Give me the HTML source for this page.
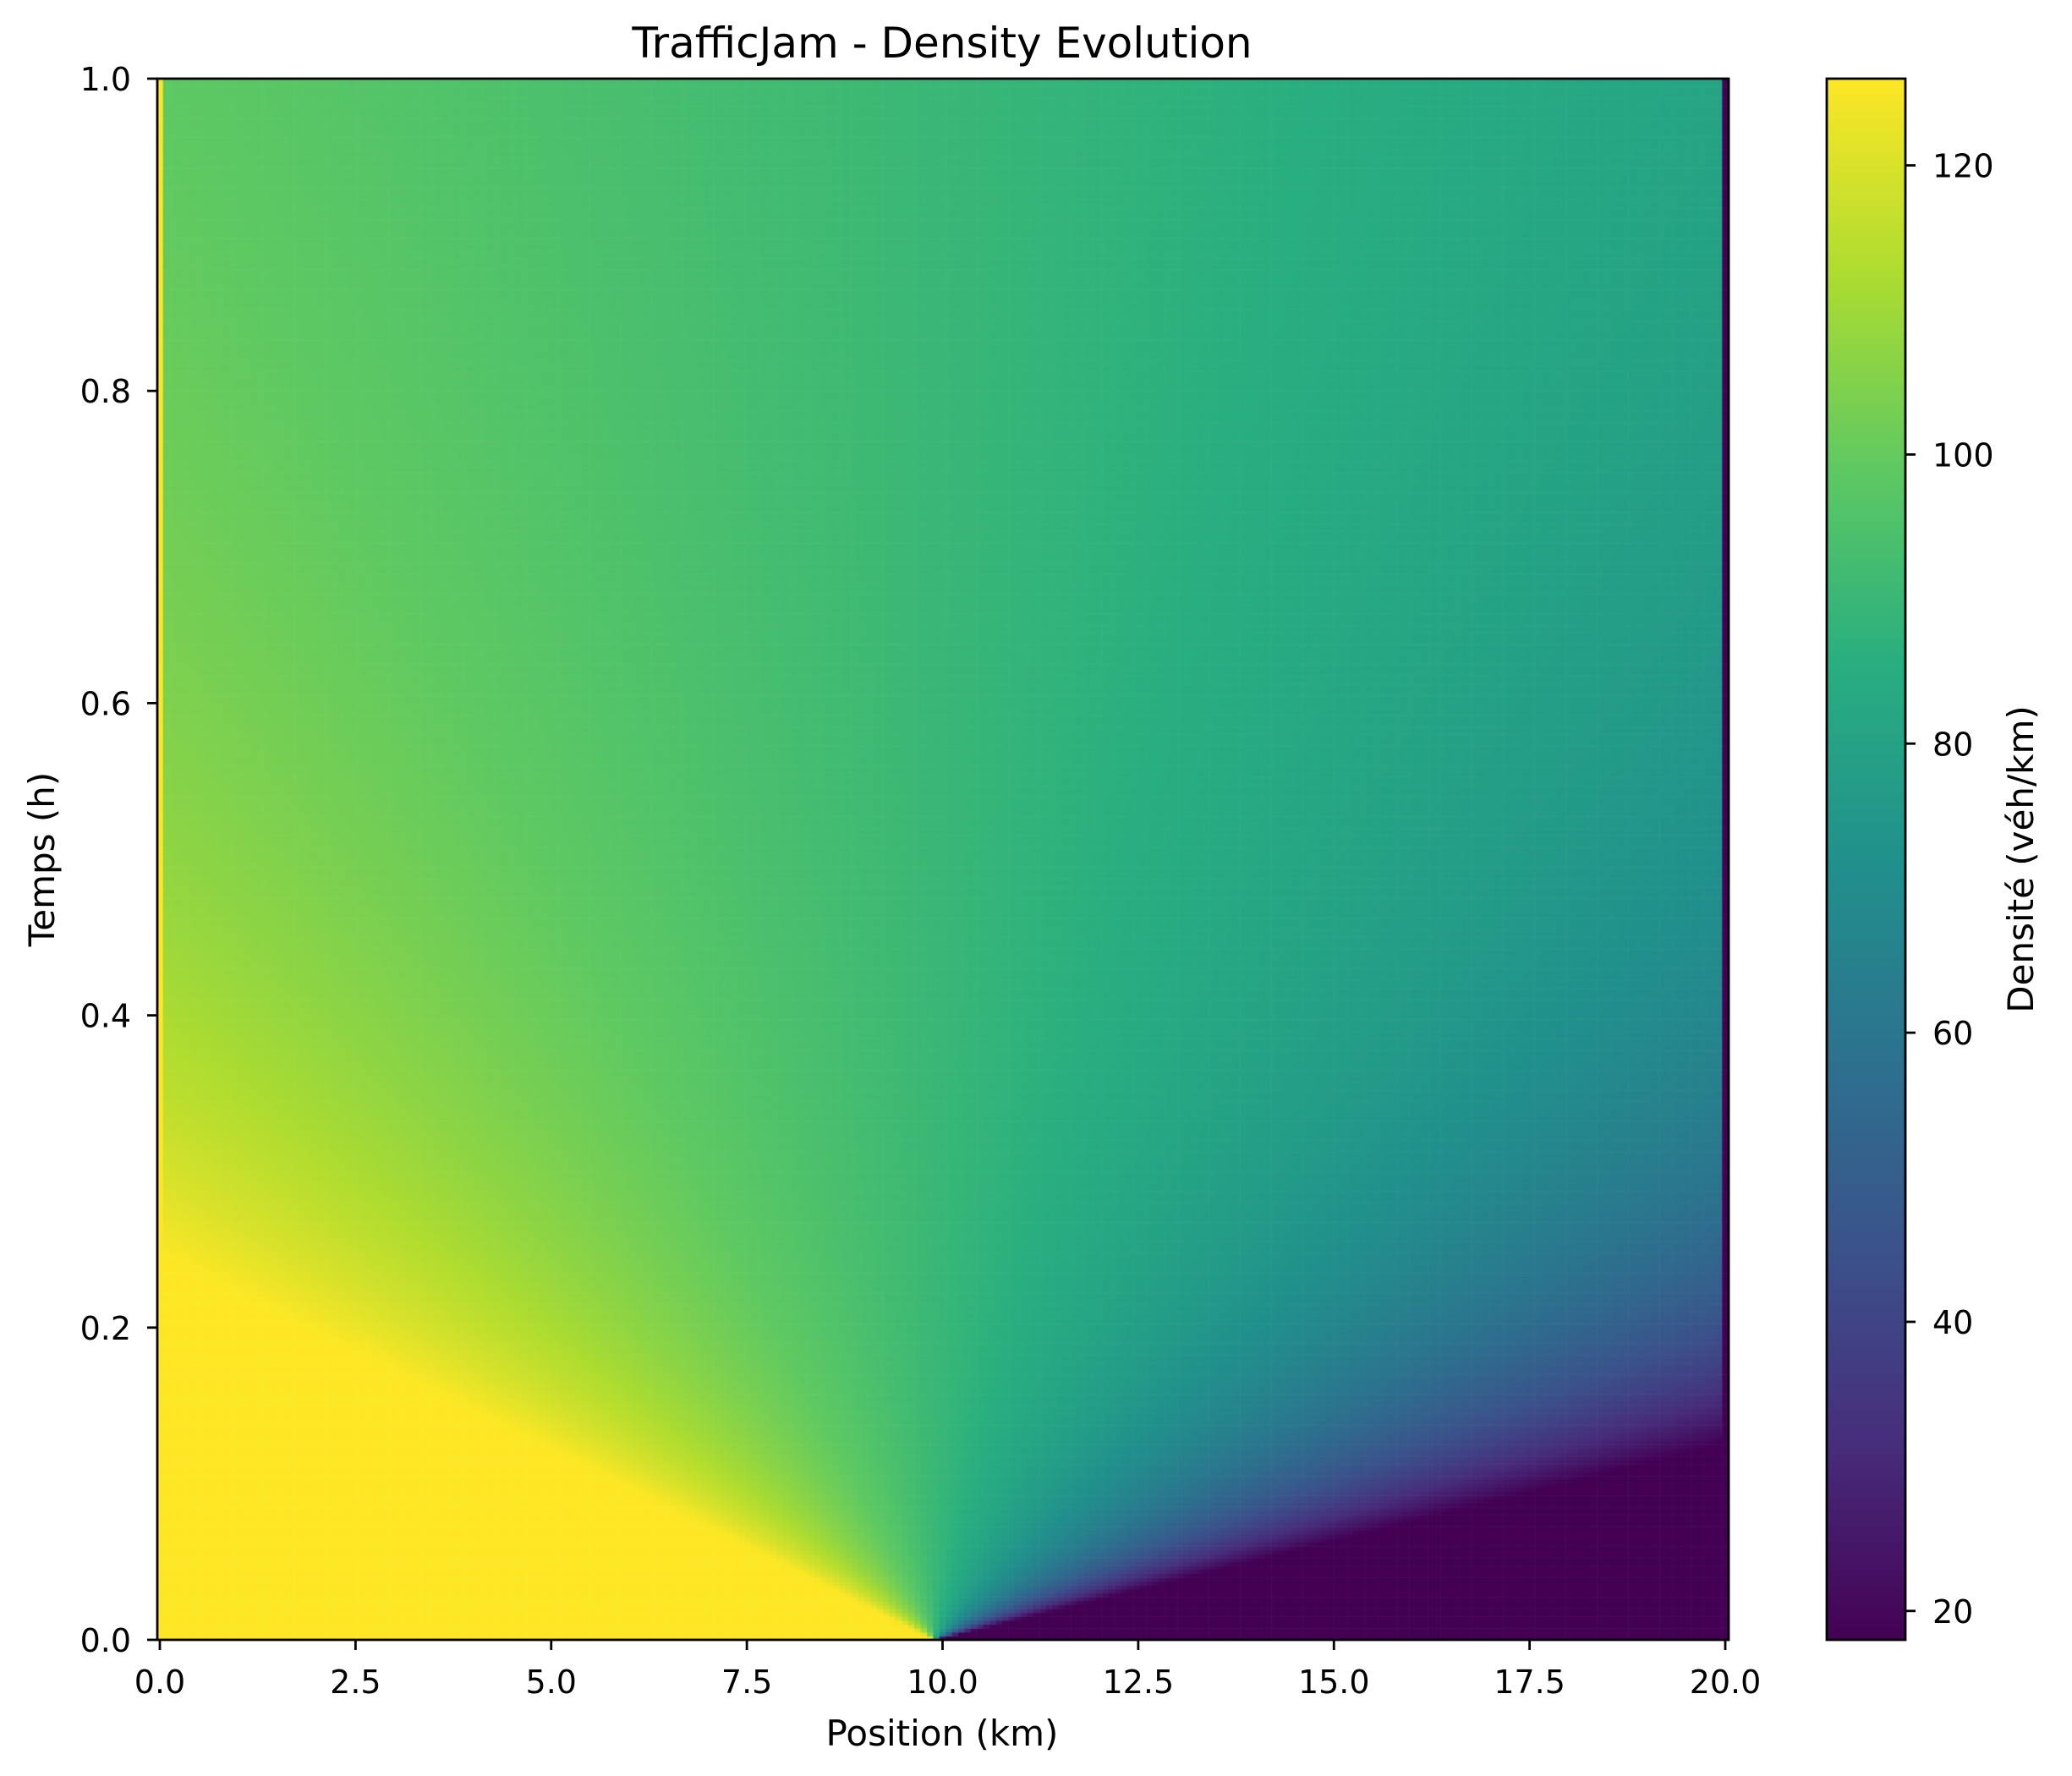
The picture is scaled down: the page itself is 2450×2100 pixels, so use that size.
<!DOCTYPE html>
<html><head><meta charset="utf-8"><style>
html,body{margin:0;padding:0;background:#fff;}
#wrap{position:relative;width:2450px;height:2100px;}
canvas,svg{position:absolute;left:0;top:0;}
text{font-family:"DejaVu Sans","Liberation Sans",sans-serif;fill:#000;}
</style></head><body>
<div id="wrap">
<canvas id="heat" width="2450" height="2100"></canvas>
<svg id="ax" width="2450" height="2100"></svg>
</div>
<script>
// ---- data (LWR Riemann problem) ----
const rhoLeft = [126];      // upstream density (véh/km)
const rhoRight = [18];      // downstream density
const vMax = [100];         // free-flow speed (km/h)
const rhoJam = [180];       // jam density
const discontinuity = [9.9]; // km
const xTicks = [0, 2.5, 5, 7.5, 10, 12.5, 15, 17.5, 20];
const xTickLabels = ["0.0","2.5","5.0","7.5","10.0","12.5","15.0","17.5","20.0"];
const yTicks = [0, 0.2, 0.4, 0.6, 0.8, 1.0];
const yTickLabels = ["0.0","0.2","0.4","0.6","0.8","1.0"];
const cTicks = [20, 40, 60, 80, 100, 120];
const cTickLabels = ["20","40","60","80","100","120"];
const cRange = [18, 126];

// ---- layout ----
const PX0=189, PX1=2040, PY0=1939, PY1=93;
const L=186, R=2044, T=93, B=1939;
const xs = x => PX0 + x*(PX1-PX0)/20;
const ys = t => PY0 - t*(PY0-PY1);
const CBL=2160, CBR=2253;
const cs = v => B - (v-cRange[0])*(B-T)/(cRange[1]-cRange[0]);

const vir=[[68,1,84],[71,45,123],[59,82,139],[44,114,142],[33,145,140],[40,174,128],[94,201,98],[173,220,48],[253,231,37]];
function viridis(v){
  let f=(v-cRange[0])/(cRange[1]-cRange[0]); f=Math.max(0,Math.min(1,f));
  const p=f*(vir.length-1), i=Math.min(vir.length-2,Math.floor(p)), r=p-i;
  const a=vir[i], b=vir[i+1];
  return `rgb(${Math.round(a[0]+(b[0]-a[0])*r)},${Math.round(a[1]+(b[1]-a[1])*r)},${Math.round(a[2]+(b[2]-a[2])*r)})`;
}
function density(x,t){
  const s=(x-discontinuity[0])/Math.max(t,1e-6);
  const sL=vMax[0]*(1-2*rhoLeft[0]/rhoJam[0]), sR=vMax[0]*(1-2*rhoRight[0]/rhoJam[0]);
  if(s<=sL) return rhoLeft[0];
  if(s>=sR) return rhoRight[0];
  return rhoJam[0]/2*(1-s/vMax[0]);
}
// ---- heatmap ----
const ctx=document.getElementById('heat').getContext('2d');
const nx=251, nt=400, dx=20/(nx-1), dt=1/nt;
for(let j=0;j<nt;j++){
  const t0=j*dt, t1=(j+1)*dt, tc=(j+0.5)*dt;
  const w=0.35*Math.sqrt(tc)+0.04;
  for(let i=0;i<nx;i++){
    const xc=i*dx;
    let v;
    if(i===0) v=rhoLeft[0]; else if(i===nx-1) v=rhoRight[0];
    else { v=0; let ws=0; for(let k=-4;k<=4;k++){const wt=Math.exp(-k*k/8); v+=wt*density(xc+k*w/4,tc); ws+=wt;} v/=ws; }
    ctx.fillStyle=viridis(v);
    const xa=Math.max(L,xs(xc-dx/2)), xb=Math.min(R,xs(xc+dx/2));
    ctx.fillRect(xa,ys(t1),xb-xa+0.6,ys(t0)-ys(t1)+0.6);
  }
}
// colorbar
for(let y=T;y<B;y++){
  ctx.fillStyle=viridis(cRange[0]+(B-y)/(B-T)*(cRange[1]-cRange[0]));
  ctx.fillRect(CBL,y,CBR-CBL,1.2);
}
// ---- axes ----
const svg=document.getElementById('ax'), NS='http://www.w3.org/2000/svg';
function el(tag,attrs,txt){const e=document.createElementNS(NS,tag);for(const k in attrs)e.setAttribute(k,attrs[k]);if(txt!==undefined)e.textContent=txt;svg.appendChild(e);return e;}
let e;
e=el('rect',{x:L,y:T,width:R-L,height:B-T,fill:'none',stroke:'#000','stroke-width':2.8});


e=el('rect',{x:CBL,y:T,width:CBR-CBL,height:B-T,fill:'none',stroke:'#000','stroke-width':2.8});


xTicks.forEach((v,i)=>{
  e=el('line',{x1:xs(v),x2:xs(v),y1:B,y2:B+12,stroke:'#000','stroke-width':2.8});
  
  
  e=el('text',{x:xs(v),y:2002,'font-size':38,'text-anchor':'middle'},xTickLabels[i]);
  
  
});
yTicks.forEach((v,i)=>{
  e=el('line',{x1:L-12,x2:L,y1:ys(v),y2:ys(v),stroke:'#000','stroke-width':2.8});
  
  
  e=el('text',{x:155,y:ys(v)+14,'font-size':38,'text-anchor':'end'},yTickLabels[i]);
  
  
});
cTicks.forEach((v,i)=>{
  e=el('line',{x1:CBR,x2:CBR+12,y1:cs(v),y2:cs(v),stroke:'#000','stroke-width':2.8});
  
  
  e=el('text',{x:2285,y:cs(v)+14,'font-size':38},cTickLabels[i]);
  
  
});
e=el('text',{x:1114,y:68,'font-size':50,'text-anchor':'middle'},'TrafficJam - Density Evolution');


e=el('text',{x:1114,y:2064,'font-size':42,'text-anchor':'middle'},'Position (km)');


e=el('text',{x:0,y:0,'font-size':42,'text-anchor':'middle',transform:'translate(64,1016) rotate(-90)'},'Temps (h)');


e=el('text',{x:0,y:0,'font-size':42,'text-anchor':'middle',transform:'translate(2404,1016) rotate(-90)'},'Densité (véh/km)');


</script>
</body></html>
